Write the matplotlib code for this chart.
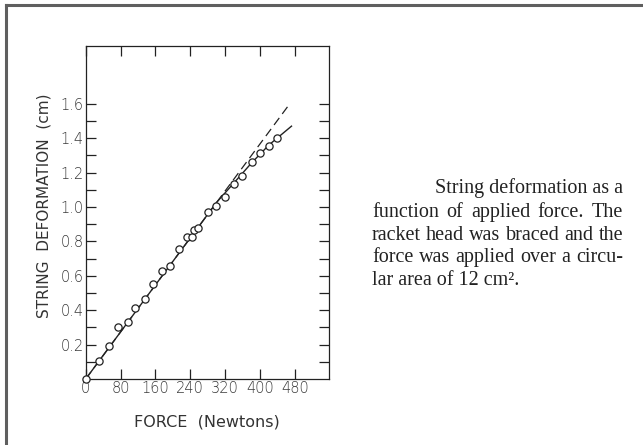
import matplotlib
matplotlib.use("Agg")
import matplotlib.pyplot as plt
import numpy as np

# measured points (force in N, deformation in cm)
force = [0, 31, 54, 74, 96, 114, 137, 154, 176, 194, 215, 233, 243, 248, 257,
         280, 299, 320, 339, 359, 381, 400, 421, 438]
deform = [0.0, 0.103, 0.192, 0.30, 0.334, 0.41, 0.468, 0.553, 0.629, 0.658,
          0.755, 0.825, 0.825, 0.868, 0.876, 0.973, 1.005, 1.06, 1.136, 1.181,
          1.263, 1.314, 1.356, 1.401]

# smooth fitted curve and the linear extrapolation
fit_x = [0, 300, 340, 380, 420, 472]
fit_y = [0.0, 1.026, 1.14, 1.255, 1.36, 1.47]
lin_x = [0, 463]
lin_y = [0.0, 1.583]

xticks = [0, 80, 160, 240, 320, 400, 480]
yticks = [0.2, 0.4, 0.6, 0.8, 1.0, 1.2, 1.4, 1.6]

caption = ["String deformation as a",
           "function of applied force. The",
           "racket head was braced and the",
           "force was applied over a circu-",
           "lar area of 12 cm\u00b2."]

fig = plt.figure(figsize=(6.43, 4.45), dpi=100)
fig.patch.set_facecolor("white")

# page border (top and left only)
fig.add_artist(plt.Line2D([6 / 643, 6 / 643], [0, 1 - 5 / 445], color="#5f5f5f",
                          lw=2.2, transform=fig.transFigure))
fig.add_artist(plt.Line2D([6 / 643, 1], [1 - 5 / 445, 1 - 5 / 445], color="#5f5f5f",
                          lw=2.2, transform=fig.transFigure))

ax = fig.add_axes([85.7 / 643, 1 - 379 / 445, (329 - 85.7) / 643, (379 - 46) / 445])
ax.set_xlim(0, 558)
ax.set_ylim(0, 1.936)

ax.plot(lin_x, lin_y, color="#222222", lw=0.9, dashes=(7, 4))
ax.plot(fit_x, fit_y, color="#222222", lw=1.0)
ax.plot(force, deform, "o", ms=5.2, mfc="white", mec="#222222", mew=0.9,
        clip_on=False, zorder=5)

ax.set_xticks(xticks)
ax.set_yticks(yticks)
ax.set_yticks([v / 10 for v in range(1, 17, 2)], minor=True)
ax.set_xticklabels([str(v) for v in xticks])
ax.set_yticklabels(["%.1f" % v for v in yticks])

ax.tick_params(axis="both", which="both", direction="in", length=7, width=0.9,
               top=True, right=True, color="#222222", labelcolor="#3a3a3a",
               labelsize=10.5)
ax.tick_params(axis="x", pad=1.5)
ax.tick_params(axis="y", pad=1.5)
for lbl in ax.get_xticklabels() + ax.get_yticklabels():
    lbl.set_family("DejaVu Sans")
    lbl.set_fontweight("light")
for s in ax.spines.values():
    s.set_linewidth(0.9)
    s.set_color("#222222")

ax.set_xlabel("FORCE  (Newtons)", fontsize=11.5, color="#333333", labelpad=13,
              family="DejaVu Sans")
ax.set_ylabel("STRING  DEFORMATION  (cm)", fontsize=11, color="#333333",
              family="DejaVu Sans")
ax.yaxis.set_label_coords(-0.142, 0.52)

# caption block, lines 2-4 justified between left and right edges
cap_left, cap_right = 372, 623
tops = [193, 217, 240, 262, 285]
renderer = fig.canvas.get_renderer()
style = dict(va="baseline", fontsize=14.5, family="Liberation Serif", color="#222222")
for i, line in enumerate(caption):
    y = 1 - tops[i] / 445
    if i == 0:
        fig.text(cap_right / 643, y, line, ha="right", **style)
    elif i == len(caption) - 1:
        fig.text(cap_left / 643, y, line, ha="left", **style)
    else:
        words = line.split(" ")
        arts = [fig.text(0, y, w, ha="left", **style) for w in words]
        widths = [a.get_window_extent(renderer).width for a in arts]
        gap = (cap_right - cap_left - sum(widths)) / (len(words) - 1)
        x = cap_left
        for a, w in zip(arts, widths):
            a.set_x(x / 643)
            x += w + gap

fig.savefig("out.png", dpi=100, facecolor="white")
